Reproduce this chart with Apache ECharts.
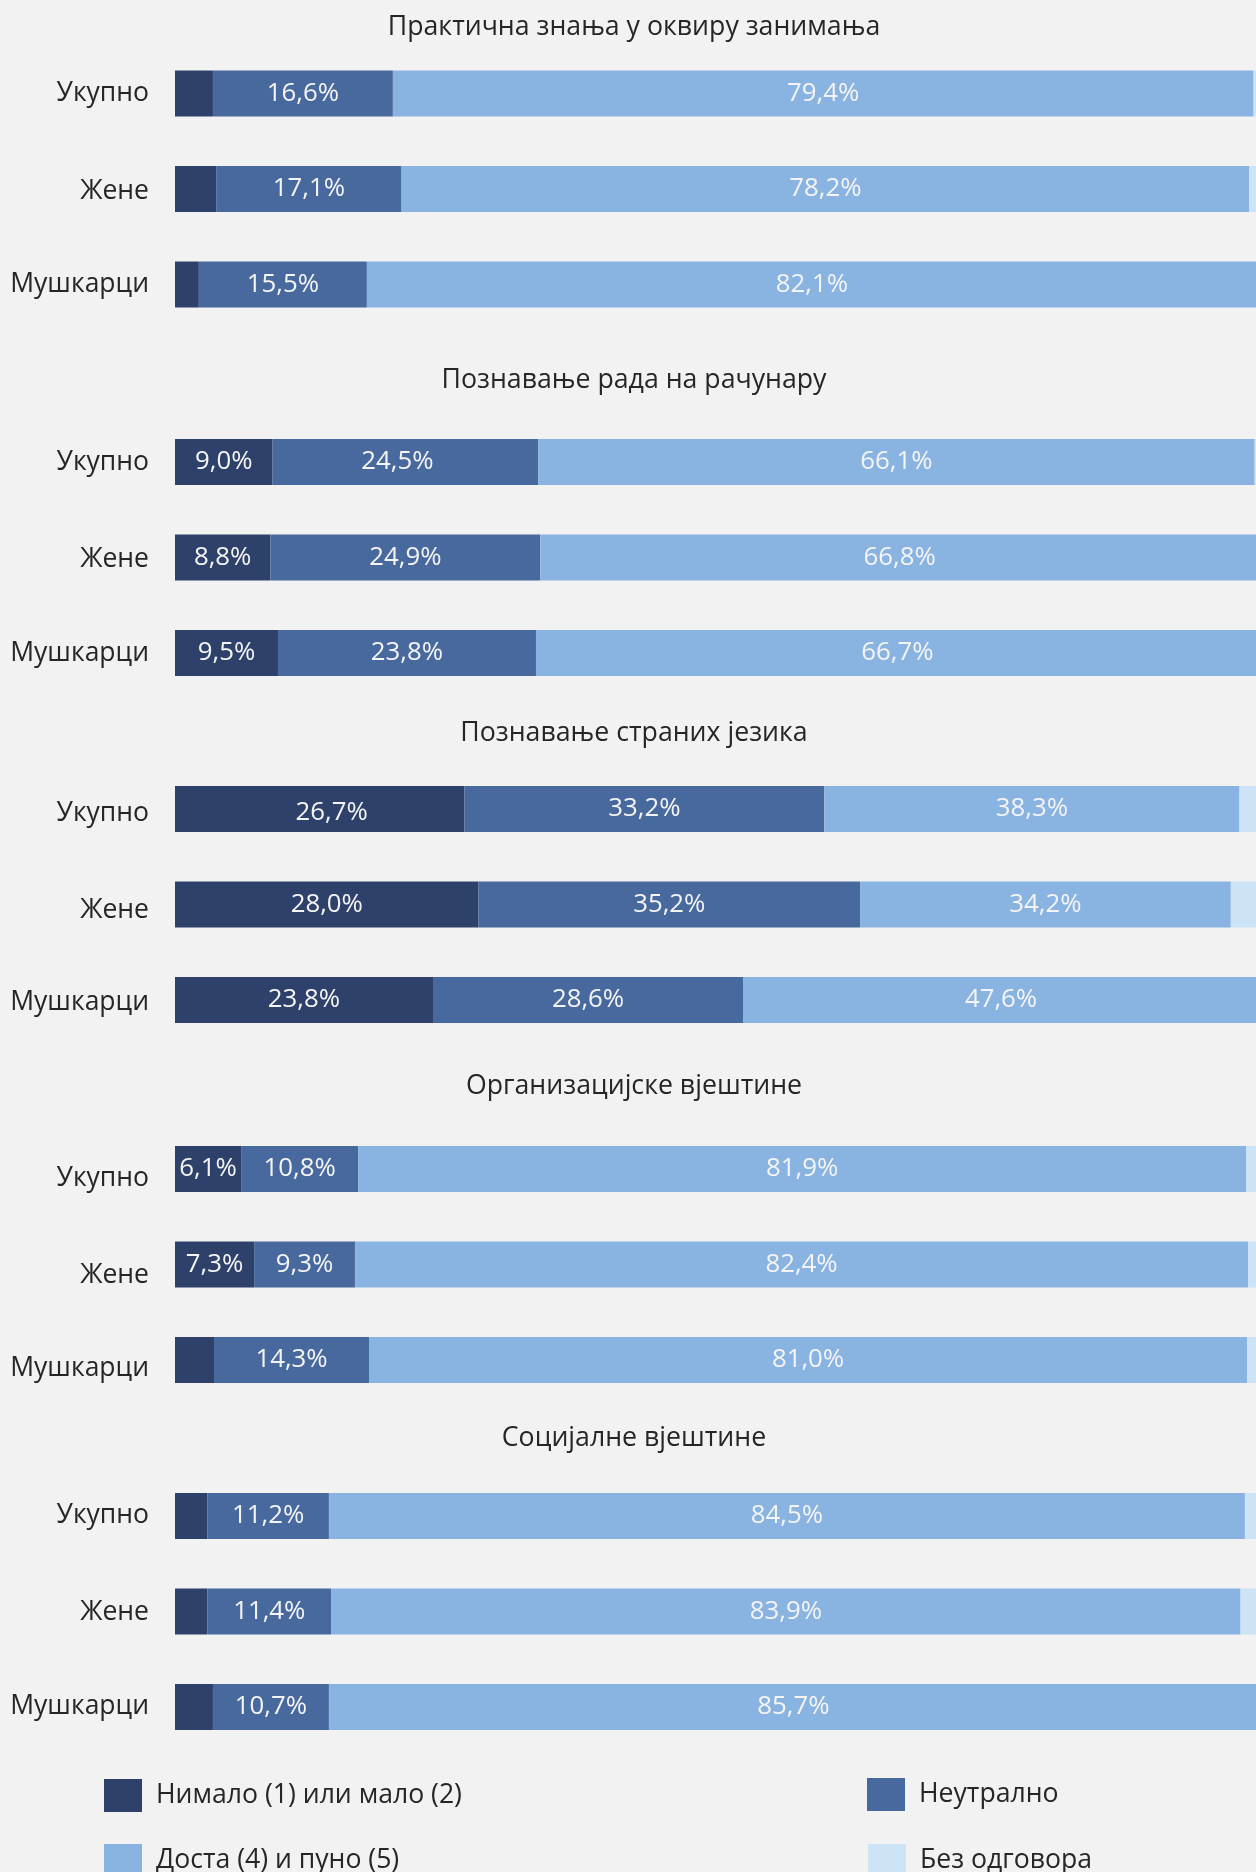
<!DOCTYPE html>
<html>
<head>
<meta charset="utf-8">
<title>Вјештине по полу</title>
<script src="https://cdn.jsdelivr.net/npm/echarts@6/dist/echarts.min.js"></script>
<style>
  html, body { margin: 0; padding: 0; background: #F2F2F2; }
  #chart { width: 1256px; height: 1872px; }
</style>
</head>
<body>
<div id="chart"></div>
<script>
// Skill areas, one horizontal block each
const panelTitles = [
  'Практична знања у оквиру занимања',
  'Познавање рада на рачунару',
  'Познавање страних језика',
  'Организацијске вјештине',
  'Социјалне вјештине'
];
const groups = ['Укупно', 'Жене', 'Мушкарци'];
const seriesNames = ['Нимало (1) или мало (2)', 'Неутрално', 'Доста (4) и пуно (5)', 'Без одговора'];

// Shares in %, one row per skill area: [Укупно, Жене, Мушкарци]
const lowShare = [
  [3.5, 3.8, 2.2],
  [9.0, 8.8, 9.5],
  [26.7, 28.0, 23.8],
  [6.1, 7.3, 3.6],
  [3.0, 3.0, 3.5]
];
const neutralShare = [
  [16.6, 17.1, 15.5],
  [24.5, 24.9, 23.8],
  [33.2, 35.2, 28.6],
  [10.8, 9.3, 14.3],
  [11.2, 11.4, 10.7]
];
const highShare = [
  [79.4, 78.2, 82.1],
  [66.1, 66.8, 66.7],
  [38.3, 34.2, 47.6],
  [81.9, 82.4, 81.0],
  [84.5, 83.9, 85.7]
];
const noAnswerShare = [
  [0.5, 0.9, 0.2],
  [0.4, 0.5, 0.0],
  [1.8, 2.6, 0.0],
  [1.2, 1.0, 1.1],
  [1.3, 1.7, 0.0]
];

const colors = ['#2E416B', '#48699E', '#89B3E0', '#CDE4F6'];
const FONT = '"Open Sans", "Noto Sans", sans-serif';
const TEXT = '#262626';

// layout of each block: title centre line and first bar centre
const titleY = [27, 380, 733, 1086, 1438];
const firstBarY = [93.5, 462, 809, 1169, 1516];
const rowStep = 95.5;
// vertical nudge (px) of the row names, per block and row
const rowLabelShift = [
  [0, 2, 0],
  [0, 2, 0],
  [4, 6, 2],
  [9, 11, 8],
  [-1, 1, -1]
];
// hand-placed value labels: 'block-series-row' -> [dx, dy]
const labelNudge = { '2-0-0': [12, 4], '1-1-0': [-8, 0] };

const fmt = v => v.toFixed(1).replace('.', ',') + '%';

const grids = [], xAxes = [], yAxes = [], series = [], titles = [];
const shareSets = [lowShare, neutralShare, highShare, noAnswerShare];

panelTitles.forEach((t, p) => {
  titles.push({
    text: t,
    left: 634,
    top: titleY[p] - 16,
    textAlign: 'center',
    padding: 0,
    textStyle: { fontFamily: FONT, fontSize: 26.7, fontWeight: 'normal', color: TEXT, lineHeight: 32 }
  });
  // the bar track runs on past the right edge of the page
  grids.push({
    left: 175,
    width: 1084,
    top: firstBarY[p] - rowStep / 2,
    height: rowStep * 3,
    outerBoundsMode: 'none',
    containLabel: false
  });
  xAxes.push({
    gridIndex: p, type: 'value', min: 0, max: 100, show: false
  });
  const rich = {};
  groups.forEach((g, i) => {
    const s = rowLabelShift[p][i];
    rich['r' + i] = {
      fontFamily: FONT, fontSize: 26.5, color: TEXT, lineHeight: 32,
      padding: s >= 0 ? [2 * s, 0, 0, 0] : [0, 0, -2 * s, 0]
    };
  });
  yAxes.push({
    gridIndex: p, type: 'category', inverse: true, data: groups,
    axisLine: { show: false }, axisTick: { show: false }, splitLine: { show: false },
    axisLabel: {
      margin: 26,
      formatter: (v, i) => '{r' + i + '|' + v + '}',
      rich: rich
    }
  });
  shareSets.forEach((set, s) => {
    series.push({
      name: seriesNames[s],
      type: 'bar',
      xAxisIndex: p,
      yAxisIndex: p,
      stack: 'panel' + p,
      barWidth: 46,
      data: set[p].map((v, i) => {
        const n = labelNudge[p + '-' + s + '-' + i];
        return n ? { value: v, label: { offset: n } } : v;
      }),
      itemStyle: { color: colors[s] },
      label: {
        show: s < 3,
        position: 'inside',
        fontFamily: FONT,
        fontSize: 25.8,
        color: '#F4F4F4',
        formatter: d => (d.value < 5 ? '' : fmt(d.value))
      },
      emphasis: { disabled: true },
      animation: false
    });
  });
});

// two-column legend at the bottom
const legendPos = [
  { left: 104, top: 1779 },
  { left: 867, top: 1778 },
  { left: 104, top: 1844 },
  { left: 868, top: 1844 }
];
const legends = seriesNames.map((n, i) => ({
  data: [n],
  left: legendPos[i].left,
  top: legendPos[i].top,
  padding: 0,
  icon: 'rect',
  itemWidth: 38,
  itemHeight: 33,
  selectedMode: false,
  textStyle: { fontFamily: FONT, fontSize: 26.6, color: TEXT, padding: [0, 0, 0, 9] }
}));

const chart = echarts.init(document.getElementById('chart'), null, { renderer: 'canvas' });
chart.setOption({
  backgroundColor: '#F2F2F2',
  animation: false,
  title: titles,
  grid: grids,
  xAxis: xAxes,
  yAxis: yAxes,
  legend: legends,
  series: series
});
</script>
</body>
</html>
